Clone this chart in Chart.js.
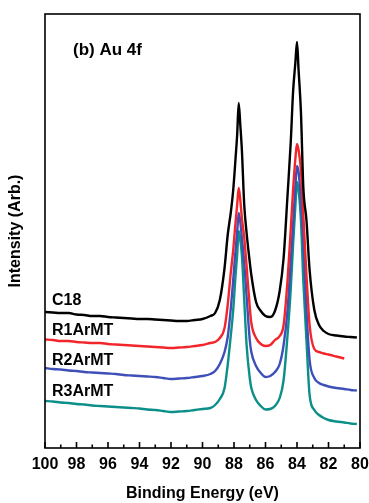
<!DOCTYPE html>
<html lang="en">
<head>
  <meta charset="UTF-8">
  <title>(b) Au 4f</title>
  <script src="https://cdn.jsdelivr.net/npm/chart.js"></script>
  <style>
    body { margin: 0; background: #fff; }
    #wrap { width: 369px; height: 503px; }
  </style>
</head>
<body>
  <div id="wrap"><canvas id="xps" width="369" height="503"></canvas></div>

  <script>
    // binding energy (eV), shared by all four spectra
    const energy = [100, 99.5, 99, 98.5, 98, 97.5, 97, 96.5, 96, 95.5, 95, 94.5, 94, 93.5, 93, 92.5, 92, 91.5, 91, 90.5, 90,
      89.5, 89.2, 88.9, 88.6, 88.4, 88.2, 88.05, 87.9, 87.8, 87.7,
      87.6, 87.5, 87.35, 87.2, 87.0, 86.9, 86.6, 86.3, 86.0, 85.7,
      85.4, 85.1, 84.85, 84.6, 84.4, 84.25, 84.1, 84.0, 83.9, 83.75,
      83.6, 83.4, 83.2, 82.9, 82.6, 82.3, 82.0, 81.5, 81.0, 80.6, 80.2];

    // intensities (arb.), offset stacked as in the figure
    const c18 = [136, 135.5, 135, 135, 133.5, 133, 132, 132, 131, 130.5, 130, 129.5, 129, 129, 128.5, 128, 127.5, 127, 127, 128, 129,
      132, 135, 148, 180, 213, 236, 258, 290, 313, 345,
      323, 298, 243, 215, 186, 173, 146, 137, 132, 131,
      137, 157, 190, 253, 305, 356, 386, 406, 378, 336,
      261, 228, 178, 138, 123, 117, 114, 112.5, 111.5, 111, 110.5];
    const r1ArMT = [108.5, 108, 107, 107, 106, 105.5, 105, 105, 104, 103.5, 103, 102.5, 102, 101.5, 101, 100.5, 100, 100.5, 101, 102, 103,
      105, 106, 110, 120, 143, 176, 198, 226, 243, 260,
      248, 230, 210, 182, 141, 125, 110, 104, 102, 103,
      108, 112, 123, 168, 218, 258, 290, 304, 298, 278,
      233, 173, 123, 99, 96, 94.5, 93.5, 91.5, 89.5, null, null];
    const r2ArMT = [80, 79, 78.5, 77.5, 77, 76, 75.5, 75, 74.5, 74, 73, 72.5, 72, 71.5, 71, 70, 69, 69.5, 70, 71, 72,
      74, 77, 84, 96, 111, 140, 168, 198, 216, 235,
      226, 210, 185, 152, 108, 96, 82, 75, 71, 72,
      76, 84, 103, 138, 186, 223, 263, 282, 276, 248,
      208, 138, 88, 70, 65, 63, 61.5, 60, 59, 58, 57.5];
    const r3ArMT = [47, 46.5, 45.5, 45, 44, 43.5, 42.5, 42, 41.5, 41, 40.5, 40, 39.5, 38.5, 38, 37, 36, 36.5, 37, 38, 39,
      40, 43, 49, 60, 83, 113, 138, 173, 193, 217,
      208, 193, 148, 103, 70, 60, 48, 42, 38.5, 39,
      42, 50, 68, 113, 158, 203, 243, 266, 258, 228,
      168, 108, 53, 38, 33, 30, 28, 26.5, 25.5, 24.5, 24];

    const seriesNames = ['C18', 'R1ArMT', 'R2ArMT', 'R3ArMT'];
    const xMajorTicks = [100, 98, 96, 94, 92, 90, 88, 86, 84, 82, 80];
    const xMinorTicks = [99, 97, 95, 93, 91, 89, 87, 85, 83, 81];

    const FONT = '"Liberation Sans", Arial, sans-serif';
    const colors = ['#000000', '#f2262a', '#3f4fb8', '#0b8f88'];

    function toPoints(vals) {
      return energy.map((e, i) => ({ x: e, y: vals[i] }));
    }

    // frame, inward ticks on the bottom axis, panel title and curve labels
    const frameAndLabels = {
      id: 'frameAndLabels',
      afterDraw(chart) {
        const { ctx, chartArea: a } = chart;
        const x = chart.scales.x;
        ctx.save();
        ctx.strokeStyle = '#000';
        ctx.lineWidth = 1.6;
        ctx.strokeRect(a.left, a.top, a.right - a.left, a.bottom - a.top);
        ctx.beginPath();
        xMajorTicks.forEach(v => {
          const px = x.getPixelForValue(v);
          ctx.moveTo(px, a.bottom);
          ctx.lineTo(px, a.bottom - 6);
        });
        xMinorTicks.forEach(v => {
          const px = x.getPixelForValue(v);
          ctx.moveTo(px, a.bottom);
          ctx.lineTo(px, a.bottom - 3.5);
        });
        ctx.stroke();

        ctx.fillStyle = '#000';
        ctx.textBaseline = 'alphabetic';
        ctx.textAlign = 'left';
        ctx.font = 'bold 17px ' + FONT;
        ctx.fillText('(b) Au 4f', a.left + 28, a.top + 41);
        ctx.font = 'bold 16px ' + FONT;
        const labelY = [291, 321, 351, 382];
        seriesNames.forEach((n, i) => ctx.fillText(n, a.left + 7, a.top + labelY[i]));
        ctx.restore();
      }
    };

    const ctx = document.getElementById('xps').getContext('2d');
    const chart = new Chart(ctx, {
      type: 'line',
      data: {
        datasets: [c18, r1ArMT, r2ArMT, r3ArMT].map((vals, i) => ({
          label: seriesNames[i],
          data: toPoints(vals),
          borderColor: colors[i],
          backgroundColor: colors[i],
          borderWidth: 2.4,
          pointRadius: 0,
          fill: false,
          cubicInterpolationMode: 'monotone',
          spanGaps: false
        }))
      },
      options: {
        responsive: false,
        animation: false,
        devicePixelRatio: 1,
        layout: { padding: { top: 14, right: 9, left: 0, bottom: 0 } },
        plugins: {
          legend: { display: false },
          tooltip: { enabled: false }
        },
        scales: {
          x: {
            type: 'linear',
            reverse: true,
            min: 80,
            max: 100,
            afterBuildTicks: s => { s.ticks = xMajorTicks.map(v => ({ value: v })); },
            afterFit: s => { s.height = 55; s.paddingLeft = 0; s.paddingRight = 0; },
            grid: { display: false, drawTicks: false },
            border: { display: false },
            ticks: {
              autoSkip: false,
              maxRotation: 0,
              padding: 7,
              color: '#000',
              font: { family: FONT, size: 16, weight: 'bold' }
            },
            title: {
              display: true,
              text: 'Binding Energy (eV)',
              color: '#000',
              padding: { top: 0, bottom: 0 },
              font: { family: FONT, size: 16, weight: 'bold' }
            }
          },
          y: {
            min: 0,
            max: 434,
            afterFit: s => { s.width = 45; s.paddingTop = 0; s.paddingBottom = 0; },
            grid: { display: false, drawTicks: false },
            border: { display: false },
            ticks: { display: false },
            title: {
              display: true,
              text: 'Intensity (Arb.)',
              color: '#000',
              padding: { top: 6, bottom: 0 },
              font: { family: FONT, size: 16, weight: 'bold' }
            }
          }
        }
      },
      plugins: [frameAndLabels]
    });
  </script>
</body>
</html>
